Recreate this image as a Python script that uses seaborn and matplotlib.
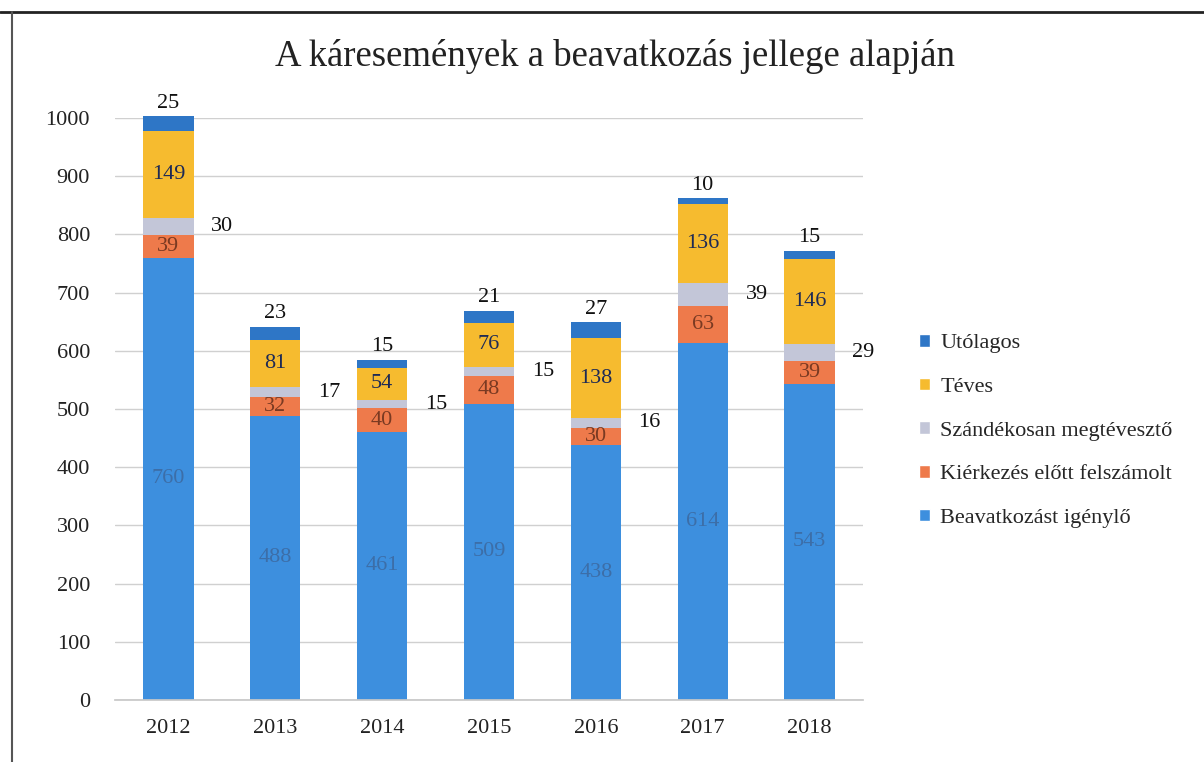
import matplotlib
matplotlib.use("Agg")
import matplotlib.pyplot as plt
from matplotlib.lines import Line2D
from matplotlib.patches import Patch
import seaborn as sns
import pandas as pd
import numpy as np

years = ["2012", "2013", "2014", "2015", "2016", "2017", "2018"]
beavatkozast = [760, 488, 461, 509, 438, 614, 543]
kierkezes = [39, 32, 40, 48, 30, 63, 39]
szandekosan = [30, 17, 15, 15, 16, 39, 29]
teves = [149, 81, 54, 76, 138, 136, 146]
utolagos = [25, 23, 15, 21, 27, 10, 15]

series_names = ["Beavatkozást igénylő", "Kiérkezés előtt felszámolt",
                "Szándékosan megtévesztő", "Téves", "Utólagos"]
series_vals = [beavatkozast, kierkezes, szandekosan, teves, utolagos]
colors = ["#3d8fde", "#ee7a4b", "#c3c6d8", "#f6bb2f", "#2e76c6"]
label_colors = ["#3c6ea8", "#7a3a22", "#111111", "#1e2a55", "#111111"]

sns.set_theme(style="white")
plt.rcParams["font.family"] = ["Liberation Serif", "DejaVu Serif"]

fig = plt.figure(figsize=(12.04, 7.62), dpi=100)
ax = fig.add_axes([115 / 1204, 1 - 700 / 762, (863 - 115) / 1204, (700 - 118) / 762])

bottom = np.zeros(len(years))
for name, vals, col in zip(series_names, series_vals, colors):
    df = pd.DataFrame({"year": years, "value": vals})
    sns.barplot(data=df, x="year", y="value", color=col, bottom=bottom,
                width=0.47, ax=ax, saturation=1, clip_on=False,
                linewidth=0)
    bottom = bottom + np.array(vals)
if ax.get_legend() is not None:
    ax.get_legend().remove()

# labels
cum = np.zeros(len(years))
for i, (vals, lc) in enumerate(zip(series_vals, label_colors)):
    for j, v in enumerate(vals):
        mid = cum[j] + v / 2
        if i == 2:
            ax.text(j + 0.40, mid, str(v), ha="left", va="center",
                    fontsize=16, color=lc)
        elif i == 4:
            ax.text(j, cum[j] + v + 6, str(v), ha="center", va="bottom",
                    fontsize=16, color=lc)
        else:
            ax.text(j, mid, str(v), ha="center", va="center",
                    fontsize=16, color=lc)
    cum = cum + np.array(vals)

ax.set_ylim(0, 1000)
ax.set_xlim(-0.5, 6.5)
ax.set_yticks(range(0, 1001, 100))
ax.yaxis.grid(True, color="#d0d0d0", linewidth=1)
ax.set_axisbelow(True)
ax.set_xlabel("")
ax.set_ylabel("")
for s in ["top", "right", "left"]:
    ax.spines[s].set_visible(False)
ax.spines["bottom"].set_color("#c8c8c8")
ax.tick_params(axis="both", length=0, labelsize=16, colors="#222222")
ax.tick_params(axis="y", pad=18)
ax.tick_params(axis="x", pad=14)

# legend
handles = [Patch(facecolor=colors[k], label=series_names[k]) for k in [4, 3, 2, 1, 0]]
fig.legend(handles=handles, loc="upper left", bbox_to_anchor=(899 / 1204, 1 - 314 / 762),
           frameon=False, fontsize=16, handlelength=0.5, handleheight=0.5,
           handletextpad=0.45, labelspacing=1.1)

fig.text(0.5 + (615 - 602) / 1204, 1 - 56 / 762,
         "A káresemények a beavatkozás jellege alapján",
         ha="center", va="center", fontsize=26.5, color="#222222")

# scan frame lines
fig.add_artist(Line2D([0, 1], [1 - 12 / 762, 1 - 12 / 762], color="#222222", linewidth=2))
fig.add_artist(Line2D([12 / 1204, 12 / 1204], [0, 1 - 12 / 762], color="#555555", linewidth=1.5))

fig.savefig("out.png", dpi=100)
